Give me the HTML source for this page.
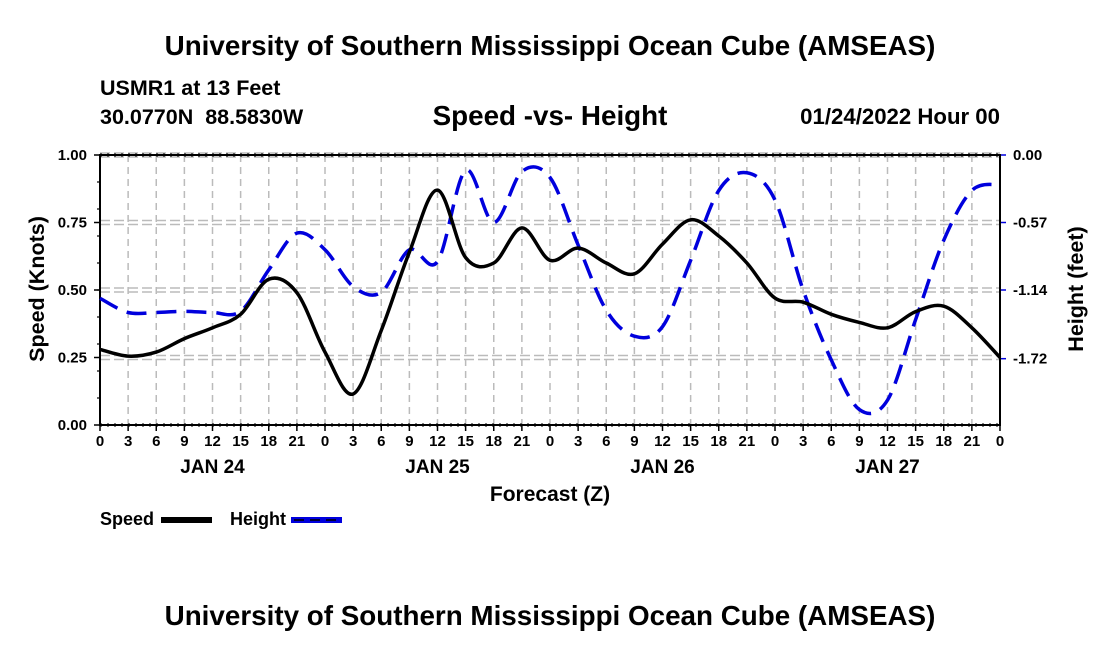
<!DOCTYPE html>
<html><head><meta charset="utf-8"><style>
body{margin:0;background:#fff;}
svg{font-family:"Liberation Sans",sans-serif;font-weight:bold;}
</style></head><body>
<svg id="chart" width="1100" height="650" viewBox="0 0 1100 650">
<text x="550" y="55" text-anchor="middle" font-size="27.8">University of Southern Mississippi Ocean Cube (AMSEAS)</text>
<text x="100" y="95" font-size="21.5">USMR1 at 13 Feet</text>
<text x="100" y="124" font-size="21.5" xml:space="preserve">30.0770N  88.5830W</text>
<text x="550" y="125" text-anchor="middle" font-size="27.8">Speed -vs- Height</text>
<text x="1000" y="124" text-anchor="end" font-size="22.2">01/24/2022 Hour 00</text>
<g id="grid"></g>
<g id="axes"></g>
<g id="series"></g>
<text x="550" y="501" text-anchor="middle" font-size="21">Forecast (Z)</text>
<text transform="translate(44,289) rotate(-90)" text-anchor="middle" font-size="21.5">Speed (Knots)</text>
<text transform="translate(1083,289) rotate(-90)" text-anchor="middle" font-size="21.5">Height (feet)</text>
<g><text x="100" y="525" font-size="18">Speed</text><rect x="161" y="517" width="51" height="6" fill="#000"/></g>
<g><text x="230" y="525" font-size="18">Height</text><rect x="291" y="517" width="51" height="6" fill="#0000dd"/><path d="M294 520h10M310 520h10M326 520h10" stroke="#000" stroke-width="1.5"/></g>
<text x="550" y="625" text-anchor="middle" font-size="27.8">University of Southern Mississippi Ocean Cube (AMSEAS)</text>
</svg>
<script>
const hours=[0,3,6,9,12,15,18,21,24,27,30,33,36,39,42,45,48,51,54,57,60,63,66,69,72,75,78,81,84,87,90,93,96];
const speedValues=[0.28,0.255,0.27,0.32,0.36,0.41,0.54,0.49,0.27,0.115,0.35,0.64,0.87,0.62,0.60,0.73,0.61,0.655,0.60,0.56,0.67,0.76,0.70,0.60,0.47,0.455,0.41,0.38,0.36,0.42,0.44,0.36,0.25];
const heightValues=[-1.21,-1.33,-1.33,-1.32,-1.33,-1.32,-0.97,-0.66,-0.80,-1.11,-1.16,-0.80,-0.90,-0.13,-0.57,-0.14,-0.19,-0.76,-1.31,-1.53,-1.45,-0.89,-0.30,-0.15,-0.38,-1.14,-1.73,-2.15,-2.07,-1.39,-0.72,-0.30,-0.25];
const leftTicks=[0,0.25,0.5,0.75,1.0];
const leftTickLabels=["0.00","0.25","0.50","0.75","1.00"];
const rightTicks=[0,-0.57,-1.14,-1.72];
const rightTickLabels=["0.00","-0.57","-1.14","-1.72"];
const hourLabels=["0","3","6","9","12","15","18","21"];
const dayLabels=["JAN 24","JAN 25","JAN 26","JAN 27"];
const X0=100,X1=1000,Y0=425,Y1=155,HMAX=96,FT_MIN=-2.28;
const xs=h=>X0+(h/HMAX)*(X1-X0);
const ys=v=>Y0-v*(Y0-Y1);
const yh=v=>Y1+(v/FT_MIN)*(Y0-Y1);
const NS='http://www.w3.org/2000/svg';
function mk(tag,attrs,parent){const e=document.createElementNS(NS,tag);for(const k in attrs)e.setAttribute(k,attrs[k]);document.getElementById(parent).appendChild(e);return e;}
for(let h=0;h<=HMAX;h+=3){
  const x=xs(h);
  if(h>0&&h<HMAX){const g=mk('line',{x1:x,x2:x,y1:Y1,y2:Y0,stroke:'#bbb','stroke-width':1.5,'stroke-dasharray':'7,5'},'grid');
  
  }
  const t=mk('line',{x1:x,x2:x,y1:Y0,y2:Y0+6,stroke:'#000','stroke-width':1.5},'axes');
  
  
  const tx=mk('text',{x:x,y:Y0+21,'text-anchor':'middle','font-size':15},'axes');
  tx.textContent=hourLabels[(h/3)%8];
  
  
}
dayLabels.forEach((d,i)=>{const t=mk('text',{x:xs(i*24+12),y:Y0+48,'text-anchor':'middle','font-size':19},'axes');t.textContent=d;

});
leftTicks.forEach((v,i)=>{const y=ys(v);
  if(v>0){[-2,2].forEach(o=>{const g=mk('line',{x1:X0,x2:X1,y1:y+o,y2:y+o,stroke:'#bbb','stroke-width':1.5,'stroke-dasharray':'10,4'},'grid');
  
  });}
  const t=mk('line',{x1:X0-6,x2:X0,y1:y,y2:y,stroke:'#000','stroke-width':1.5},'axes');
  
  
  const tx=mk('text',{x:X0-13,y:y+5,'text-anchor':'end','font-size':15},'axes');tx.textContent=leftTickLabels[i];
  
  
});
for(let k=1;k<10;k++){const v=k/10;const t=mk('line',{x1:X0-3,x2:X0,y1:ys(v),y2:ys(v),stroke:'#000','stroke-width':1.2},'axes');

}
rightTicks.forEach((v,i)=>{const y=yh(v);
  const t=mk('line',{x1:X1,x2:X1+6,y1:y,y2:y,stroke:'#0000dd','stroke-width':1.5},'axes');
  
  
  const tx=mk('text',{x:X1+13,y:y+5,'font-size':15},'axes');tx.textContent=rightTickLabels[i];
  
  
});
const fr=mk('path',{d:`M${X0} ${Y1}V${Y0}H${X1}V${Y1}Z`,fill:'none',stroke:'#000','stroke-width':2},'axes');


[Y1,Y0].forEach(y=>{const d=mk('line',{x1:X0,x2:X1,y1:y,y2:y,stroke:'#000','stroke-width':3,'stroke-dasharray':'2,5'},'axes');

});
function smooth(pts){let d=`M${pts[0][0]},${pts[0][1]}`;
  for(let i=0;i<pts.length-1;i++){const p0=pts[Math.max(0,i-1)],p1=pts[i],p2=pts[i+1],p3=pts[Math.min(pts.length-1,i+2)];
    d+=`C${p1[0]+(p2[0]-p0[0])/6},${p1[1]+(p2[1]-p0[1])/6} ${p2[0]-(p3[0]-p1[0])/6},${p2[1]-(p3[1]-p1[1])/6} ${p2[0]},${p2[1]}`;}
  return d;}
const hp=mk('path',{d:smooth(hours.map((h,i)=>[xs(h),yh(heightValues[i])])),fill:'none',stroke:'#0000dd','stroke-width':3.5,'stroke-dasharray':'20,10'},'series');


const sp=mk('path',{d:smooth(hours.map((h,i)=>[xs(h),ys(speedValues[i])])),fill:'none',stroke:'#000','stroke-width':3.5},'series');


</script>
</body></html>
